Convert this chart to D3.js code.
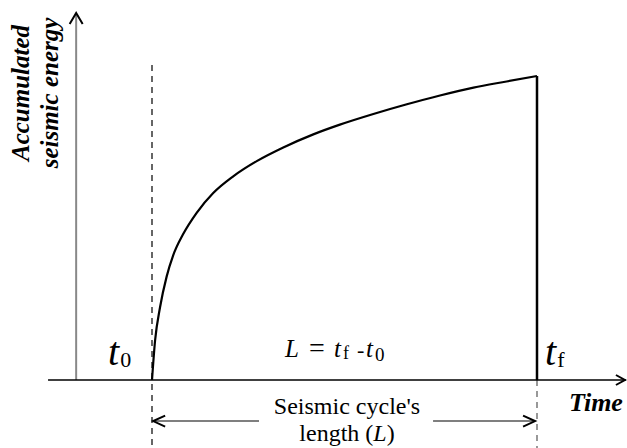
<!DOCTYPE html>
<html>
<head>
<meta charset="utf-8">
<script src="https://cdn.jsdelivr.net/npm/d3@7"></script>
<style>
  body { margin: 0; background: #fff; }
  svg { display: block; }
  svg text { font-family: "Liberation Serif", "DejaVu Serif", serif; }
</style>
</head>
<body>
<svg></svg>
<script>
// accumulated energy curve, time in units of the cycle (t0 = 0, tf = 1)
var timeVals   = [0, 0.008, 0.021, 0.038, 0.055, 0.081, 0.116, 0.159, 0.211, 0.272, 0.341, 0.419, 0.488, 0.575, 0.662, 0.748, 0.835, 0.921, 1];
var energyVals = [0, 0.13, 0.24, 0.34, 0.41, 0.48, 0.55, 0.615, 0.67, 0.72, 0.765, 0.808, 0.84, 0.875, 0.907, 0.936, 0.962, 0.982, 1];

// axis extents in data units
var timeAxis   = [-0.27, 1.231];
var energyAxis = [0, 1.207];
var yAxisTime  = -0.197;
var dashTop    = 1.036;
var dashBottom = -0.224;
var lengthArrowLevel = -0.135;
var lengthArrows = [[0.278, 0.003], [0.73, 0.995]];

var width = 627, height = 448;

var x = d3.scaleLinear().domain([0, 1]).range([152, 537]);
var y = d3.scaleLinear().domain([0, 1]).range([380, 76]);

var svg = d3.select('svg')
    .attr('width', width)
    .attr('height', height);

var data = timeVals.map(function(t, i) { return {t: t, e: energyVals[i]}; });

function chevron(tx, ty, dx, dy, len, half) {
  // dx,dy = unit direction of arrow
  var bx = tx - dx * len, by = ty - dy * len;
  var px = -dy * half, py = dx * half;
  return 'M' + (bx + px) + ',' + (by + py) + 'L' + tx + ',' + ty + 'L' + (bx - px) + ',' + (by - py);
}

// dashed guide lines
svg.append('line')
    .attr('x1', x(0)).attr('x2', x(0))
    .attr('y1', y(dashTop)).attr('y2', y(dashBottom))
    .attr('stroke', '#000').attr('stroke-width', 1.2)
    .attr('stroke-dasharray', '6,5');

svg.append('line')
    .attr('x1', x(1)).attr('x2', x(1))
    .attr('y1', y(0)).attr('y2', y(dashBottom))
    .attr('stroke', '#555').attr('stroke-width', 1.2)
    .attr('stroke-dasharray', '6,5');

// y axis
svg.append('line')
    .attr('x1', x(yAxisTime)).attr('x2', x(yAxisTime))
    .attr('y1', y(0)).attr('y2', y(energyAxis[1]) + 1)
    .attr('stroke', '#888').attr('stroke-width', 2);
svg.append('path')
    .attr('d', chevron(x(yAxisTime), y(energyAxis[1]), 0, -1, 11, 6.5))
    .attr('fill', 'none').attr('stroke', '#000').attr('stroke-width', 2);

// x axis
svg.append('line')
    .attr('x1', x(timeAxis[0])).attr('x2', x(timeAxis[1]))
    .attr('y1', y(0)).attr('y2', y(0))
    .attr('stroke', '#000').attr('stroke-width', 1.5);
svg.append('path')
    .attr('d', chevron(x(timeAxis[1]) - 1, y(0), 1, 0, 9, 5))
    .attr('fill', 'none').attr('stroke', '#000').attr('stroke-width', 2);

// energy curve
var line = d3.line()
    .x(function(d) { return x(d.t); })
    .y(function(d) { return y(d.e); })
    .curve(d3.curveMonotoneX);

svg.append('path')
    .datum(data)
    .attr('d', line)
    .attr('fill', 'none')
    .attr('stroke', '#000')
    .attr('stroke-width', 2.2);

// drop at tf
svg.append('line')
    .attr('x1', x(1)).attr('x2', x(1))
    .attr('y1', y(energyVals[energyVals.length - 1])).attr('y2', y(0))
    .attr('stroke', '#000').attr('stroke-width', 2.5);

// cycle length arrows
lengthArrows.forEach(function(a) {
  var dir = a[1] > a[0] ? 1 : -1;
  svg.append('line')
      .attr('x1', x(a[0])).attr('x2', x(a[1]))
      .attr('y1', y(lengthArrowLevel)).attr('y2', y(lengthArrowLevel))
      .attr('stroke', '#555').attr('stroke-width', 1.5);
  svg.append('path')
      .attr('d', chevron(x(a[1]), y(lengthArrowLevel), dir, 0, 12, 5.5))
      .attr('fill', 'none').attr('stroke', '#000').attr('stroke-width', 2);
});

// labels
var t0 = svg.append('text').attr('x', 108).attr('y', 365).attr('font-size', 40);
t0.append('tspan').attr('font-style', 'italic').text('t');
t0.append('tspan').attr('dx', 1).attr('dy', 2).attr('font-size', 22).text('0');

var tf = svg.append('text').attr('x', 545).attr('y', 365).attr('font-size', 40);
tf.append('tspan').attr('font-style', 'italic').text('t');
tf.append('tspan').attr('dx', 1).attr('dy', 2).attr('font-size', 22).text('f');

var eq = svg.append('text').attr('y', 357).attr('font-size', 22);
eq.append('tspan').attr('x', 285).attr('font-style', 'italic').attr('font-size', 25).text('L');
eq.append('tspan').attr('x', 309).attr('font-size', 28).text('=');
eq.append('tspan').attr('x', 334).attr('font-style', 'italic').attr('font-size', 25).text('t');
eq.append('tspan').attr('x', 343).attr('dy', 2).attr('font-size', 18).text('f');
eq.append('tspan').attr('x', 357).attr('dy', -2).text('-');
eq.append('tspan').attr('x', 366).attr('font-style', 'italic').attr('font-size', 25).text('t');
eq.append('tspan').attr('x', 375).attr('dy', 4).attr('font-size', 19).text('0');

svg.append('text')
    .attr('x', 347).attr('y', 414)
    .attr('text-anchor', 'middle')
    .attr('font-size', 24)
    .text("Seismic cycle's");

var len = svg.append('text')
    .attr('x', 347).attr('y', 441)
    .attr('text-anchor', 'middle')
    .attr('font-size', 24);
len.append('tspan').text('length (');
len.append('tspan').attr('font-style', 'italic').text('L');
len.append('tspan').text(')');

svg.append('text')
    .attr('x', 569).attr('y', 411)
    .attr('font-size', 26)
    .attr('font-weight', 'bold')
    .attr('font-style', 'italic')
    .text('Time');

[['Accumulated', 29], ['seismic energy', 58]].forEach(function(d) {
  svg.append('text')
      .attr('transform', 'translate(' + d[1] + ',93) rotate(-90)')
      .attr('text-anchor', 'middle')
      .attr('font-size', 25)
      .attr('font-weight', 'bold')
      .attr('font-style', 'italic')
      .text(d[0]);
});
</script>
</body>
</html>
